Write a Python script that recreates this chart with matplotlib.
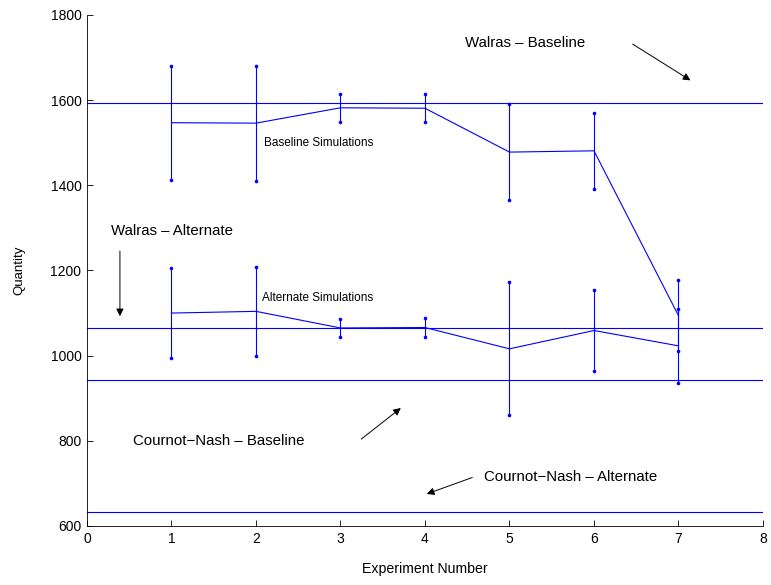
import matplotlib
matplotlib.use("Agg")
import matplotlib.pyplot as plt
import numpy as np

plt.rcParams['font.family'] = ['Liberation Sans', 'DejaVu Sans']

experiments = [1, 2, 3, 4, 5, 6, 7]
baseline_mean = [1547, 1546, 1582, 1581, 1478, 1481, 1094]
baseline_err = [134, 135, 33, 33, 113, 89, 83]
alternate_mean = [1100, 1104, 1065, 1066, 1016, 1059, 1023]
alternate_err = [105, 105, 22, 23, 156, 95, 87]

walras_baseline = 1593
walras_alternate = 1065
cournot_baseline = 943
cournot_alternate = 632

xticks = list(range(0, 9))
yticks = [600, 800, 1000, 1200, 1400, 1600, 1800]

fig = plt.figure(figsize=(7.71, 5.85), dpi=100)
ax = fig.add_axes([0.1128, 0.1009, 0.8768, 0.8735])

blue = (0, 0, 1)
lw = 0.8
for m, e in ((baseline_mean, baseline_err), (alternate_mean, alternate_err)):
    m = np.array(m); e = np.array(e); x = np.array(experiments)
    ax.errorbar(x, m, yerr=e, color=blue, lw=lw, elinewidth=lw, capsize=0)
    ax.plot(np.concatenate([x, x]), np.concatenate([m - e, m + e]), 'o',
            color=blue, ms=2.6, mew=0)

for v in (walras_baseline, walras_alternate, cournot_baseline, cournot_alternate):
    ax.axhline(v, color=blue, lw=lw)

ax.set_xlim(0, 8)
ax.set_ylim(600, 1800)
ax.set_xticks(xticks)
ax.set_yticks(yticks)
ax.tick_params(direction='in', length=4.5, width=0.6, labelsize=10, pad=4)
for s in ('top', 'right'):
    ax.spines[s].set_visible(False)
for s in ('left', 'bottom'):
    ax.spines[s].set_linewidth(0.6)

ax.set_xlabel('Experiment Number', fontsize=10.2, labelpad=12)
ax.set_ylabel('Quantity', fontsize=9.5, labelpad=18)

tfs = 10.8
ax.text(4.47, 1735, 'Walras – Baseline', fontsize=tfs, va='center', ha='left')
ax.annotate('', xy=(7.17, 1643), xytext=(6.43, 1735),
            arrowprops=dict(arrowstyle='-|>', color='black', lw=0.7, mutation_scale=11))
ax.text(0.29, 1293, 'Walras – Alternate', fontsize=tfs, va='center', ha='left')
ax.annotate('', xy=(0.39, 1086), xytext=(0.39, 1252),
            arrowprops=dict(arrowstyle='-|>', color='black', lw=0.7, mutation_scale=11))
ax.text(0.54, 799, 'Cournot−Nash – Baseline', fontsize=tfs, va='center', ha='left')
ax.annotate('', xy=(3.74, 881), xytext=(3.22, 800),
            arrowprops=dict(arrowstyle='-|>', color='black', lw=0.7, mutation_scale=11))
ax.text(4.70, 716, 'Cournot−Nash – Alternate', fontsize=tfs, va='center', ha='left')
ax.annotate('', xy=(3.99, 673), xytext=(4.59, 716),
            arrowprops=dict(arrowstyle='-|>', color='black', lw=0.7, mutation_scale=11))

ax.text(2.10, 1499, 'Baseline Simulations', fontsize=8.5, va='center', ha='left')
ax.text(2.07, 1136, 'Alternate Simulations', fontsize=8.5, va='center', ha='left')

fig.savefig('out.png', dpi=100)
